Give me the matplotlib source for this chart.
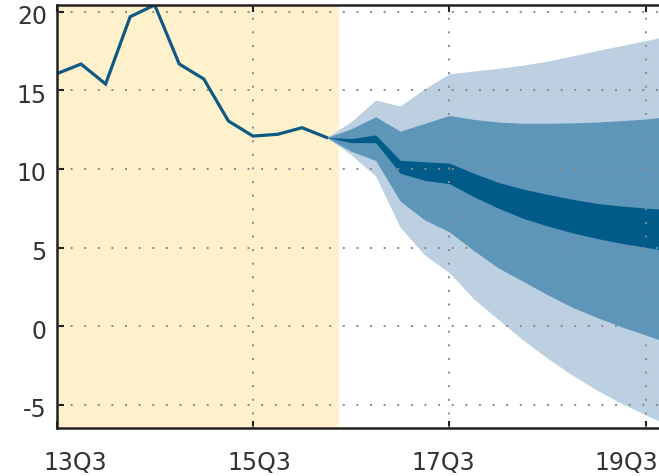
import matplotlib
matplotlib.use("Agg")
import matplotlib.pyplot as plt
import matplotlib.transforms as mtrans

# ---- data ----
hist_q = list(range(0, 12))          # quarter index, 0 = 13Q3
hist_vals = [16.05, 16.67, 15.4, 19.68, 20.43, 16.67, 15.72, 13.05, 12.09, 12.2, 12.62, 12.0]

fan_q = list(range(11, 26))
outer_hi = [12.0, 13.0, 14.38, 14.0, 15.1, 16.05, 16.23, 16.4, 16.6, 16.86, 17.18, 17.52, 17.84, 18.16, 18.5]
mid_hi   = [12.0, 12.55, 13.32, 12.4, 12.9, 13.4, 13.15, 12.98, 12.9, 12.9, 12.93, 12.98, 13.07, 13.17, 13.35]
dark_hi  = [12.0, 11.93, 12.16, 10.55, 10.45, 10.37, 9.72, 9.14, 8.72, 8.38, 8.07, 7.81, 7.64, 7.51, 7.4]
dark_lo  = [12.0, 11.67, 11.67, 9.72, 9.27, 9.06, 8.23, 7.5, 6.86, 6.37, 5.94, 5.58, 5.27, 5.01, 4.75]
mid_lo   = [12.0, 11.12, 10.54, 7.95, 6.75, 6.0, 4.8, 3.7, 2.85, 2.0, 1.2, 0.56, -0.04, -0.57, -1.1]
outer_lo = [12.0, 10.9, 9.55, 6.28, 4.52, 3.4, 1.72, 0.42, -0.88, -2.05, -3.11, -4.06, -4.91, -5.65, -6.35]

shade_end = 11.5
tick_q = [0, 8, 16, 24]
tick_labels = ["13Q3", "15Q3", "17Q3", "19Q3"]
y_ticks = [-5, 0, 5, 10, 15, 20]

# ---- style ----
c_yellow = "#FEF1CC"
c_light = "#BDD0E1"
c_mid = "#5D96B9"
c_dark = "#015B88"
c_line = "#0E5A84"
c_text = "#333333"
c_grid = "#8a8a8a"

W, H = 659, 476
fig = plt.figure(figsize=(W / 100, H / 100), dpi=100)
ax = fig.add_axes([56.5 / W, (H - 428) / H, (W - 56.5) / W, (428 - 4.7) / H])

ax.set_xlim(0, 24.54)
ax.set_ylim(-6.48, 20.445)

ax.axvspan(0, shade_end, color=c_yellow, lw=0, zorder=0)

ax.fill_between(fan_q, outer_lo, outer_hi, color=c_light, lw=0, zorder=1)
ax.fill_between(fan_q, mid_lo, mid_hi, color=c_mid, lw=0, zorder=2)
ax.fill_between(fan_q, dark_lo, dark_hi, color=c_dark, lw=0, zorder=3)

# grid
for q in tick_q:
    ax.axvline(q, color=c_grid, lw=1.4, dashes=(1, 6.0), zorder=4)
for yv in y_ticks:
    ax.axhline(yv, color=c_grid, lw=1.4, dashes=(1, 6.0), zorder=4)

ax.plot(hist_q, hist_vals, color=c_line, lw=2.3, zorder=5, solid_joinstyle="miter")

ax.set_xticks(tick_q)
ax.set_xticklabels([])
ax.set_yticks(y_ticks)
ax.set_yticklabels([str(v) for v in y_ticks])
ax.tick_params(axis="both", direction="in", length=5, width=1.5, color="#222222",
               top=True, bottom=True, left=True, right=False)
ax.tick_params(axis="y", labelsize=17, labelcolor=c_text, pad=7)
for lbl in ax.get_yticklabels():
    lbl.set_transform(lbl.get_transform() + mtrans.ScaledTranslation(0, -3 / 100, fig.dpi_scale_trans))

for s in ["left", "top", "bottom"]:
    ax.spines[s].set_linewidth(1.8)
    ax.spines[s].set_color("#222222")
    ax.spines[s].set_zorder(6)
ax.spines["right"].set_visible(False)

# x labels (slightly compressed toward centre as in reference)
trans = mtrans.blended_transform_factory(ax.transData, fig.transFigure)
for q, lab in zip(tick_q, tick_labels):
    xpos = 12 + (q - 12) * 0.935
    ax.text(xpos, (H - 463) / H, lab, transform=trans, ha="center", va="center",
            fontsize=17, color=c_text, clip_on=False)

fig.savefig("out.png", dpi=100)
